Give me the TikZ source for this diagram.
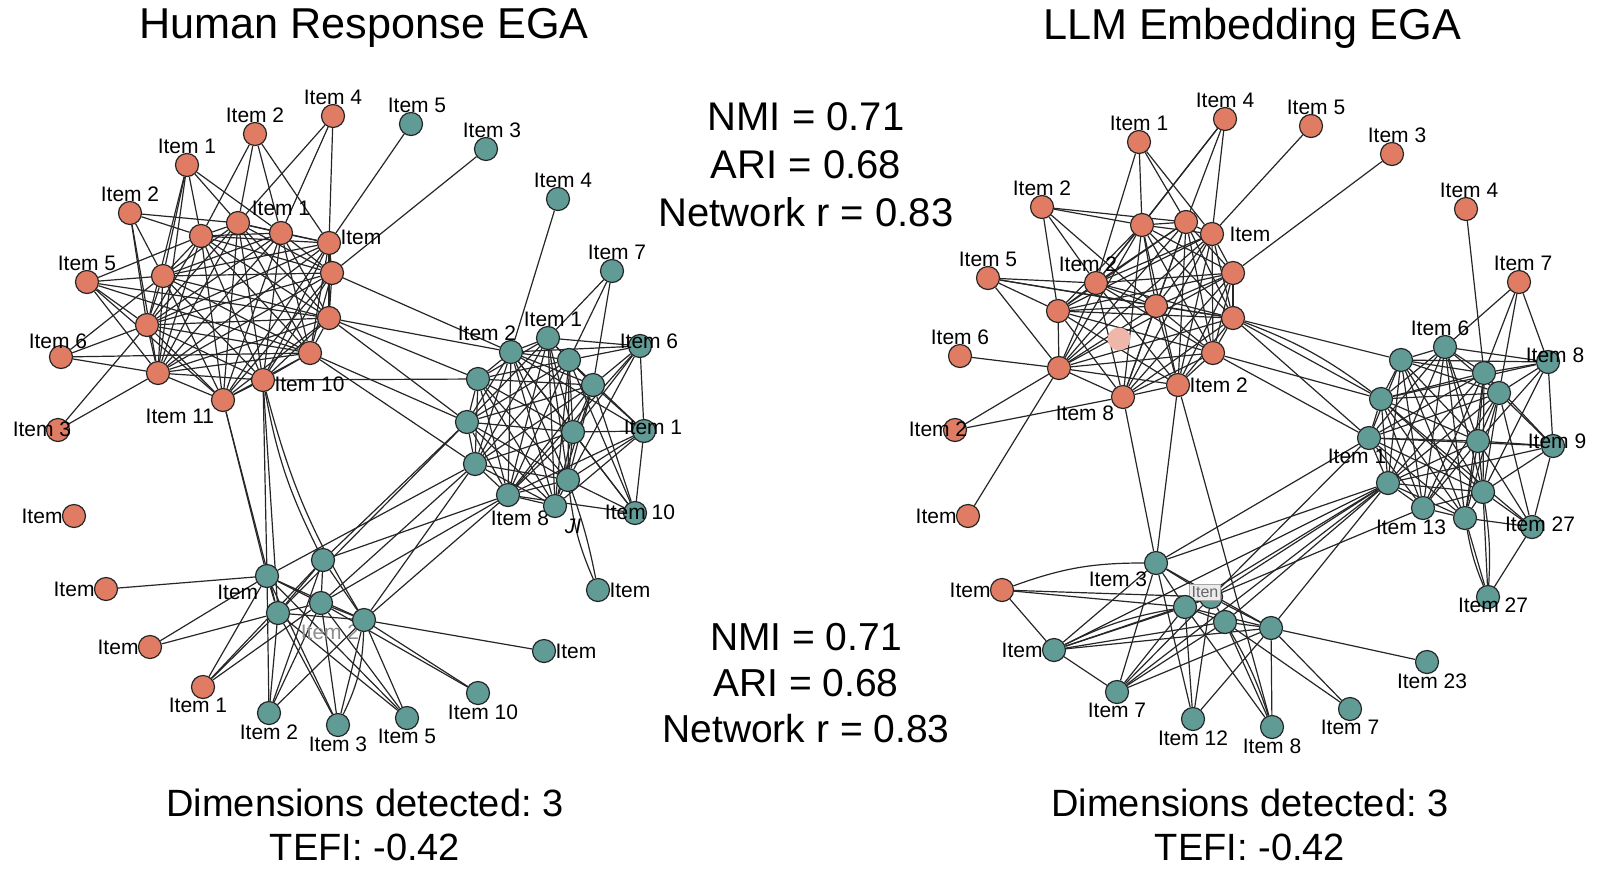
\documentclass[tikz,border=0pt]{standalone}
\usepackage{fontspec}
\setmainfont{Liberation Sans}
\usetikzlibrary{backgrounds}

\definecolor{egaorange}{RGB}{224,124,100}
\definecolor{egateal}{RGB}{96,155,150}

\tikzset{
    orn/.style={circle,draw=black!85,line width=0.6pt,fill=egaorange,minimum size=11.5pt,inner sep=0pt},
    tea/.style={orn,fill=egateal},
    lbl/.style={font=\fontsize{10.5}{12}\selectfont,inner sep=1pt,label distance=-1.5pt},
    olbl/.style={font=\fontsize{10.5}{12}\selectfont,inner sep=1pt,anchor=center},
    edge/.style={line width=0.6pt,black!85},
    title/.style={font=\fontsize{21.6}{26}\selectfont},
    stat/.style={font=\fontsize{20}{24}\selectfont,align=center},
    dims/.style={font=\fontsize{19}{22}\selectfont,align=center}
}

% dense cores
\newcommand{\humanorange}{hA,hB,hC,hD,hE,hF,hG,hH,hI,hJ,hK,hL}
\newcommand{\humanteal}{hT1,hT2,hT3,hT5,hT6,hT7,hT8,hT10,hT11,hT12,hT13}
\newcommand{\llmorange}{lA,lB,lC,lD,lE,lF,lG,lH,lJ,lK,lL,lM}
\newcommand{\llmteal}{lS1,lS2,lS3,lS5,lS6,lS7,lS8,lS11,lS12,lS13,lS14}
\newcommand{\clique}[1]{\foreach \u [count=\i] in #1 {\foreach \v [count=\j] in #1 {\ifnum\j>\i \draw[edge] (\u) -- (\v);\fi}}}

\frenchspacing

\begin{document}
\begin{tikzpicture}[x=0.5pt,y=-0.5pt]
    \useasboundingbox (0,0) rectangle (1600,873);

    % titles
    \node[title] (human title) at (364,28) {Human Response EGA};
    \node[title] (llm title) at (1252,28) {LLM Embedding EGA};

    % agreement
    \node[stat] (stats top) at (806,165) {NMI = 0.71\\ARI = 0.68\\Network r = 0.83};
    \node[stat,font=\fontsize{19.5}{23}\selectfont] (stats bottom) at (806,683) {NMI = 0.71\\ARI = 0.68\\Network r = 0.83};

    % summaries
    \node[dims] (human dims) at (365,825) {Dimensions detected: 3\\TEFI: -0.42};
    \node[dims] (llm dims) at (1250,825) {Dimensions detected: 3\\TEFI: -0.42};

    % human: orange community
    \node[orn,label={[lbl]above:Item 4}] (hp1) at (333,116) {};
    \node[orn,label={[lbl]above:Item 2}] (hp2) at (255,134) {};
    \node[orn,label={[lbl]above:Item 1}] (hp3) at (187,165) {};
    \node[orn,label={[lbl]above:Item 2}] (hp4) at (130,213) {};
    \node[orn,label={[lbl]above:Item 5}] (hp5) at (87,282) {};
    \node[orn,label={[olbl,xshift=-1.5pt,yshift=1.75pt]above:Item 6}] (hp6) at (61,357) {};
    \node[orn,label={[olbl,xshift=-8pt,yshift=-5.75pt]above:Item 3}] (hp7) at (58,430) {};
    \node[orn] (hA) at (201,236) {};
    \node[orn] (hB) at (238,223) {};
    \node[orn,label={[lbl,yshift=3pt]above:Item 1}] (hC) at (281,233) {};
    \node[orn,label={[lbl,yshift=2.75pt]right:Item}] (hD) at (329,243) {};
    \node[orn] (hE) at (332,273) {};
    \node[orn] (hF) at (163,276) {};
    \node[orn] (hG) at (147,325) {};
    \node[orn] (hH) at (329,318) {};
    \node[orn] (hI) at (158,373) {};
    \node[orn] (hJ) at (310,353) {};
    \node[orn,label={[lbl,yshift=-2pt]right:Item 10}] (hK) at (263,380) {};
    \node[orn,label={[lbl]below left:Item 11}] (hL) at (223,400) {};
    \node[orn,label={[lbl]left:Item}] (hq1) at (74,516) {};
    \node[orn,label={[lbl]left:Item}] (hq2) at (106,589) {};
    \node[orn,label={[lbl]left:Item}] (hq3) at (150,647) {};
    \node[orn,label={[lbl,xshift=-2.5pt]below:Item 1}] (hq4) at (203,687) {};

    % human: teal community
    \node[tea,label={[lbl,xshift=3pt]above:Item 5}] (ht5) at (411,124) {};
    \node[tea,label={[lbl,xshift=3pt]above:Item 3}] (ht3) at (486,149) {};
    \node[tea,label={[lbl,xshift=2.5pt]above:Item 4}] (ht4) at (558,199) {};
    \node[tea,label={[lbl,xshift=2.5pt]above:Item 7}] (ht7) at (612,271) {};
    \node[tea,label={[lbl,xshift=-12pt]above:Item 2}] (hT1) at (511,352) {};
    \node[tea,label={[lbl,xshift=2.5pt]above:Item 1}] (hT2) at (548,338) {};
    \node[tea] (hT3) at (569,360) {};
    \node[tea,label={[olbl,xshift=4.5pt,yshift=-3.75pt]above:Item 6}] (hT4) at (640,346) {};
    \node[tea] (hT5) at (478,379) {};
    \node[tea] (hT6) at (593,385) {};
    \node[tea] (hT7) at (467,422) {};
    \node[tea] (hT8) at (573,432) {};
    \node[tea,label={[olbl,xshift=4.5pt,yshift=-4.25pt]above:Item 1}] (hT9) at (644,431) {};
    \node[tea] (hT10) at (475,464) {};
    \node[tea] (hT11) at (568,480) {};
    \node[tea,label={[lbl,xshift=6pt,yshift=-2pt]below:Item 8}] (hT12) at (508,495) {};
    \node[tea,label={[olbl,xshift=9pt,yshift=-16.25pt,font=\fontsize{10.5}{12}\selectfont\rmfamily\itshape]above:JI}] (hT13) at (555,506) {};
    \node[tea,label={[olbl,xshift=2.5pt,yshift=-5.75pt]above:Item 10}] (hT14) at (635,513) {};
    \node[tea,label={[lbl]right:Item}] (hT15) at (598,590) {};

    % human: third community
    \node[tea,label={[lbl]below left:Item}] (hM) at (267,576) {};
    \node[tea] (hN) at (323,560) {};
    \node[tea] (hO) at (278,613) {};
    \node[tea,label={[olbl,text=black!45,xshift=4.5pt,yshift=-20.75pt]above:Item 2}] (hP) at (321,603) {};
    \node[tea] (hQ) at (364,620) {};
    \node[tea,label={[lbl]right:Item}] (hb1) at (544,651) {};
    \node[tea,label={[lbl,xshift=2.5pt]below:Item 10}] (hb2) at (478,693) {};
    \node[tea,label={[lbl]below:Item 5}] (hb3) at (407,718) {};
    \node[tea,label={[lbl]below:Item 3}] (hb4) at (338,725) {};
    \node[tea,label={[lbl]below:Item 2}] (hb5) at (269,713) {};

    % llm: orange community
    \node[orn,label={[lbl]above:Item 4}] (lp4) at (1225,119) {};
    \node[orn,label={[lbl]above:Item 1}] (lp1) at (1139,142) {};
    \node[orn,label={[lbl]above:Item 2}] (lp2) at (1042,207) {};
    \node[orn,label={[lbl]above:Item 5}] (lp5) at (988,278) {};
    \node[orn,label={[lbl]above:Item 6}] (lp6) at (960,356) {};
    \node[orn,label={[olbl,xshift=-8.5pt,yshift=-5.75pt]above:Item 2}] (lp2b) at (955,430) {};
    \node[orn,label={[lbl]left:Item}] (lq1) at (968,516) {};
    \node[orn,label={[lbl]left:Item}] (lq2) at (1002,590) {};
    \node[orn,label={[lbl,xshift=2.5pt]above:Item 5}] (lr5) at (1311,126) {};
    \node[orn,label={[lbl,xshift=2.5pt]above:Item 3}] (lr3) at (1392,154) {};
    \node[orn,label={[lbl,xshift=1.5pt]above:Item 4}] (lr4) at (1466,209) {};
    \node[orn,label={[lbl,xshift=2pt]above:Item 7}] (lr7) at (1519,282) {};
    \node[orn] (lA) at (1142,225) {};
    \node[orn] (lB) at (1186,222) {};
    \node[orn,label={[lbl,xshift=3pt]right:Item}] (lC) at (1212,234) {};
    \node[orn] (lD) at (1233,273) {};
    \node[orn,label={[lbl,xshift=-4pt]above:Item 2}] (lE) at (1096,283) {};
    \node[orn] (lF) at (1058,311) {};
    \node[orn] (lG) at (1156,306) {};
    \node[orn] (lH) at (1233,318) {};
    \node[orn,draw=none,fill=egaorange!55] (lI) at (1119,339) {};
    \node[orn] (lJ) at (1059,368) {};
    \node[orn] (lK) at (1213,353) {};
    \node[orn,label={[lbl]right:Item 2}] (lL) at (1178,385) {};
    \node[orn,label={[lbl]below left:Item 8}] (lM) at (1123,397) {};

    % llm: teal community
    \node[tea] (lS1) at (1401,360) {};
    \node[tea,label={[lbl,xshift=-2.5pt]above:Item 6}] (lS2) at (1445,347) {};
    \node[tea] (lS3) at (1484,373) {};
    \node[tea,label={[olbl,xshift=3.5pt,yshift=-2.75pt]above:Item 8}] (lS4) at (1548,362) {};
    \node[tea] (lS5) at (1499,393) {};
    \node[tea] (lS6) at (1381,399) {};
    \node[tea,label={[lbl,xshift=-6pt]below:Item 1}] (lS7) at (1369,438) {};
    \node[tea] (lS8) at (1478,441) {};
    \node[tea,label={[olbl,xshift=2pt,yshift=-3.75pt]above:Item 9}] (lS9) at (1553,446) {};
    \node[tea] (lS11) at (1388,483) {};
    \node[tea] (lS12) at (1483,492) {};
    \node[tea,label={[lbl,xshift=-6pt]below:Item 13}] (lS13) at (1423,508) {};
    \node[tea] (lS14) at (1465,518) {};
    \node[tea,label={[olbl,xshift=4pt,yshift=-4.75pt]above:Item 27}] (lS15) at (1532,527) {};
    \node[tea,label={[olbl,xshift=2.5pt,yshift=-10.25pt]above:Item 27}] (lS16) at (1488,597) {};

    % llm: third community
    \node[tea,label={[lbl]below left:Item 3}] (lU1) at (1156,563) {};
    \node[tea,label={[olbl,xshift=-3pt,yshift=-3.75pt,text=black!60,draw=black!35,fill=black!8,font=\fontsize{8}{9}\selectfont]above:Iten}] (lU2) at (1211,597) {};
    \node[tea] (lU3) at (1185,607) {};
    \node[tea] (lU4) at (1225,622) {};
    \node[tea] (lU5) at (1271,628) {};
    \node[tea,label={[lbl]left:Item}] (lb1) at (1054,650) {};
    \node[tea,label={[lbl]below:Item 7}] (lb2) at (1117,692) {};
    \node[tea,label={[lbl]below:Item 12}] (lb3) at (1193,719) {};
    \node[tea,label={[lbl]below:Item 8}] (lb4) at (1272,727) {};
    \node[tea,label={[lbl]below:Item 7}] (lb5) at (1350,709) {};
    \node[tea,label={[lbl,xshift=2.5pt]below:Item 23}] (lb6) at (1427,662) {};

    % links
    \begin{scope}[on background layer]
        \clique{\humanorange}
        \clique{\humanteal}
        \clique{\llmorange}
        \clique{\llmteal}

        \foreach \a/\b in {hp1/hB,hp1/hC,hp1/hD,hp2/hA,hp2/hB,hp2/hC,hp2/hD,
            hp3/hA,hp3/hB,hp3/hC,hp3/hF,hp3/hG,hp3/hI,hp4/hA,hp4/hB,hp4/hF,hp4/hG,hp4/hI,
            hp5/hA,hp5/hF,hp5/hG,hp5/hI,hp5/hH,hp5/hJ,hp5/hL,hp6/hF,hp6/hG,hp6/hI,hp6/hJ,
            hp7/hI,hp7/hG,ht5/hD,ht3/hE,
            hH/hT1,hH/hT5,hH/hT7,hJ/hT7,hJ/hT10,hK/hT5,hE/hT1,
            hL/hM,hL/hO,hK/hM,hK/hO,
            hq2/hM,hq3/hM,hq3/hO,hq4/hM,hq4/hO,hq4/hP,hq4/hN,
            hM/hO,hM/hP,hM/hQ,hN/hO,hN/hP,hO/hP,hO/hQ,hP/hQ,hN/hQ,
            hb5/hM,hb5/hN,hb5/hO,hb5/hP,hb5/hQ,hb4/hM,hb4/hO,hb4/hP,hb4/hQ,
            hb3/hM,hb3/hO,hb3/hP,hb3/hQ,hb2/hQ,hb2/hP,hb1/hQ,
            hM/hT10,hN/hT7,hN/hT12,hP/hT10,hP/hT12,hQ/hT10,hQ/hT12,hO/hT7,
            hT4/hT1,hT4/hT2,hT4/hT3,hT4/hT6,hT4/hT8,hT4/hT9,hT4/hT11,hT4/hT12,
            hT9/hT3,hT9/hT6,hT9/hT8,hT9/hT11,hT9/hT12,hT9/hT13,hT9/hT14,hT9/hT1,
            hT14/hT3,hT14/hT6,hT14/hT8,hT14/hT11,hT14/hT12,hT14/hT1,
            ht7/hT2,ht7/hT3,ht7/hT6,ht4/hT1}
            \draw[edge] (\a) -- (\b);
        \draw[edge] (hK) to[bend right=8] (hN);
        \draw[edge] (hK) to[bend right=8] (hQ);
        \draw[edge] (hb4) to[bend right=12] (hQ);
        \draw[edge] (hT15) to[bend left=8] (hT11);
        \draw[edge] (hT15) to[bend right=4] (hT11);

        \foreach \a/\b in {lp4/lA,lp4/lB,lp4/lC,lp4/lE,lp1/lA,lp1/lB,lp1/lC,lp1/lE,
            lp2/lA,lp2/lB,lp2/lE,lp2/lF,lp2/lG,lp5/lF,lp5/lE,lp5/lG,lp5/lJ,lp5/lH,
            lp6/lJ,lp2b/lJ,lp2b/lM,lq1/lJ,lr5/lC,lr3/lD,lr4/lS3,
            lr7/lS2,lr7/lS3,lr7/lS5,lr7/lS4,
            lH/lS1,lH/lS6,lH/lS7,lK/lS6,lK/lS7,lM/lU1,lL/lU1,lL/lb4,
            lS4/lS1,lS4/lS2,lS4/lS3,lS4/lS5,lS4/lS6,lS4/lS8,lS4/lS9,lS4/lS12,
            lS9/lS3,lS9/lS5,lS9/lS7,lS9/lS8,lS9/lS11,lS9/lS12,lS9/lS15,
            lS15/lS5,lS15/lS6,lS15/lS8,lS15/lS12,lS15/lS14,lS15/lS16,
            lS16/lS12,lS16/lS14,
            lS11/lU1,lS11/lb1,lS11/lU2,lS11/lU3,lS11/lU4,lS11/lb2,lS11/lU5,
            lS7/lU1,lS7/lU2,lS13/lU2,
            lq2/lU3,lq2/lU2,lq2/lb1,
            lb1/lU1,lb1/lU2,lb1/lU3,lb1/lU4,lb1/lU5,lb1/lb2,
            lb2/lU1,lb2/lU2,lb2/lU3,lb2/lU4,lb2/lU5,
            lb3/lU1,lb3/lU2,lb3/lU3,lb3/lU5,lb4/lU3,lb4/lU4,lb4/lU5,
            lb5/lU4,lb5/lU5,lb6/lU5,
            lU1/lU2,lU1/lU3,lU1/lU5,lU2/lU3,lU2/lU4,lU2/lU5,lU3/lU4,lU3/lU5,lU4/lU5}
            \draw[edge] (\a) -- (\b);
        \draw[edge] (lH) to[bend left=8] (lS6);
        \draw[edge] (lq2) to[bend left=10] (lU1);
        \draw[edge] (lb1) to[bend left=8] (lU3);
        \draw[edge] (lb4) to[bend right=6] (lU4);
        \draw[edge] (lS16) to[bend left=6] (lS14);
        \draw[edge] (lS16) to[bend right=6] (lS12);
    \end{scope}
\end{tikzpicture}
\end{document}
